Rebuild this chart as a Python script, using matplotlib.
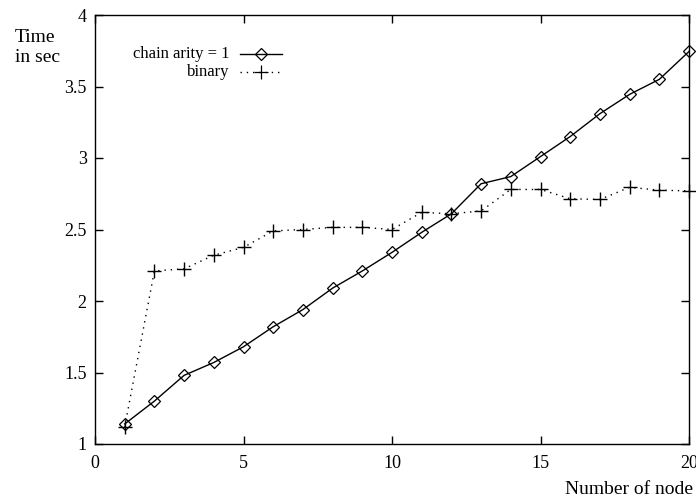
import matplotlib
matplotlib.use("Agg")
import matplotlib.pyplot as plt
from matplotlib.lines import Line2D

plt.rcParams['font.family'] = ['Liberation Serif', 'DejaVu Serif']

# number of nodes
nodes = list(range(1, 21))
# time in sec, chain arity = 1
chain = [1.14, 1.30, 1.48, 1.57, 1.68, 1.82, 1.94, 2.09, 2.21, 2.34,
         2.48, 2.61, 2.82, 2.87, 3.01, 3.15, 3.31, 3.445, 3.55, 3.745]
# time in sec, binary
binary = [1.12, 2.21, 2.225, 2.32, 2.375, 2.49, 2.50, 2.515, 2.515, 2.50,
          2.62, 2.61, 2.63, 2.78, 2.78, 2.715, 2.71, 2.795, 2.775, 2.77]

xticks = [0, 5, 10, 15, 20]
yticks = [1, 1.5, 2, 2.5, 3, 3.5, 4]

fig = plt.figure(figsize=(6.96, 5.04), dpi=100)
ax = fig.add_axes([95/696, 60/504, 594/696, 429/504])

ax.plot(nodes, chain, color='black', lw=1.0, marker='D', ms=6.5,
        mfc='none', mec='black', mew=0.9, clip_on=False)
ax.plot(nodes, binary, color='black', lw=1.0, ls=(0, (1, 3.5)), marker='+',
        ms=10, mew=1.0, clip_on=False)

ax.set_xlim(0, 20)
ax.set_ylim(1, 4)
ax.set_xticks(xticks)
ax.set_yticks(yticks)
ax.set_yticklabels(['1', '1.5', '2', '2.5', '3', '3.5', '4'])
ax.tick_params(direction='in', length=6, width=1.0, top=True, right=True,
               labelsize=13)
ax.tick_params(axis='x', pad=8)
ax.tick_params(axis='y', pad=6)
for s in ax.spines.values():
    s.set_linewidth(1.0)

# legend drawn like gnuplot's key (labels right aligned, sample to the right)
lx0, lx1, lm, tx = 0.244, 0.315, 0.279, 0.227
for yy, lab, ls, mk, ms in [(0.910, 'chain arity = 1', '-', 'D', 6.5),
                            (0.868, 'binary', (0, (1, 3.5)), '+', 10)]:
    ax.add_line(Line2D([lx0, lx1], [yy, yy], transform=ax.transAxes,
                       color='black', lw=1.0, ls=ls))
    ax.add_line(Line2D([lm], [yy], transform=ax.transAxes, color='black',
                       marker=mk, ms=ms, mfc='none', mec='black', mew=0.9))
    ax.text(tx, yy, lab, transform=ax.transAxes, ha='right', va='center',
            fontsize=12)

fig.text(15/696, 1 - 37/504, 'Time', ha='left', va='center', fontsize=14)
fig.text(15/696, 1 - 58/504, 'in sec', ha='left', va='center', fontsize=14)
fig.text(693/696, 1 - 489/504, 'Number of node', ha='right', va='center',
         fontsize=14)

fig.savefig('out.png', dpi=100)
